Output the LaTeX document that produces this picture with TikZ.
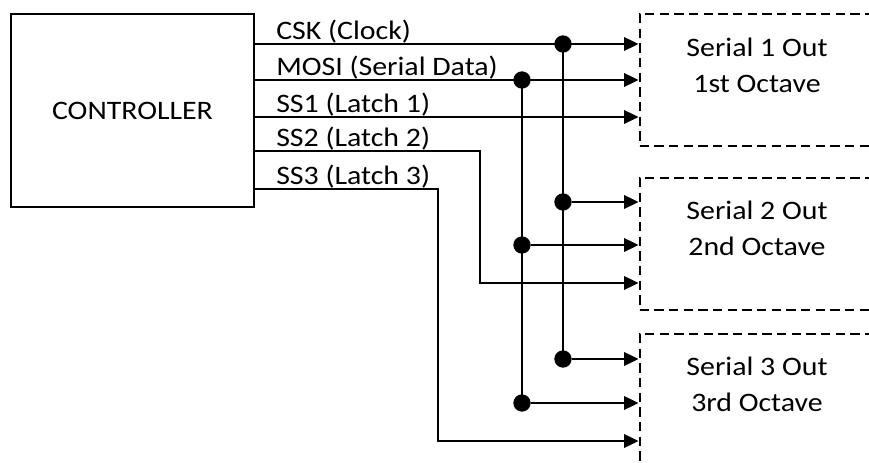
\documentclass[tikz,border=0pt]{standalone}
\usepackage{fontspec}
\setmainfont{Carlito}[FakeStretch=1.12]
\usetikzlibrary{arrows.meta,positioning}

\tikzset{
    ctrlbox/.style={draw, line width=1.5pt, minimum width=182pt, minimum height=145pt},
    outbox/.style={draw, dash pattern=on 7pt off 4pt, line width=1.5pt, minimum width=176pt, minimum height=99pt},
    sig/.style={line width=2pt},
    sigarrow/.style={sig, -{Triangle[length=11pt,width=10pt]}},
    junction/.style={circle, fill, inner sep=0pt, minimum size=13pt},
    siglabel/.style={anchor=base west, inner sep=0pt},
    outlabel/.style={align=center, inner sep=0pt}
}

\begin{document}
\begin{tikzpicture}[x=0.75pt,y=-0.75pt,font=\fontsize{20}{27}\selectfont]
    \clip (0,0) rectangle (869,463);

    % controller
    \node[ctrlbox] (ctrl) at (132.5,110.5) {CONTROLLER};

    % serial outputs
    \node[outbox] (box1) at (757,80) {};
    \node[outbox] (box2) at (757,244) {};
    \node[outbox] (box3) at (757,400) {};
    \node[outlabel] (txt1) at (757,65) {Serial 1 Out\\1st Octave};
    \node[outlabel] (txt2) at (757,228) {Serial 2 Out\\2nd Octave};
    \node[outlabel] (txt3) at (757,384) {Serial 3 Out\\3rd Octave};

    % controller pins
    \coordinate (csk) at (254,44);
    \coordinate (mosi) at (254,80);
    \coordinate (ss1) at (254,117);
    \coordinate (ss2) at (254,151);
    \coordinate (ss3) at (254,189);
    \coordinate (ss2turn) at (480,283);
    \coordinate (ss3turn) at (438,441);

    \node[siglabel] at (276,40) {CSK (Clock)};
    \node[siglabel] at (276,76) {MOSI (Serial Data)};
    \node[siglabel] at (276,113) {SS1 (Latch 1)};
    \node[siglabel] at (276,147) {SS2 (Latch 2)};
    \node[siglabel] at (276,185) {SS3 (Latch 3)};

    % bus junctions
    \node[junction] (cskj1) at (563,44) {};
    \node[junction] (cskj2) at (563,202) {};
    \node[junction] (cskj3) at (563,359) {};
    \node[junction] (mosij1) at (522,80) {};
    \node[junction] (mosij2) at (522,245) {};
    \node[junction] (mosij3) at (522,403) {};

    % wires
    \draw[sig] (cskj1.center) -- (cskj3.center);
    \draw[sig] (mosij1.center) -- (mosij3.center);
    \draw[sigarrow] (csk) -- (csk -| box1.west);
    \draw[sigarrow] (mosi) -- (mosi -| box1.west);
    \draw[sigarrow] (ss1) -- (ss1 -| box1.west);
    \draw[sigarrow] (cskj2) -- (cskj2 -| box2.west);
    \draw[sigarrow] (mosij2) -- (mosij2 -| box2.west);
    \draw[sigarrow] (ss2) -| (ss2turn) -- (ss2turn -| box2.west);
    \draw[sigarrow] (cskj3) -- (cskj3 -| box3.west);
    \draw[sigarrow] (mosij3) -- (mosij3 -| box3.west);
    \draw[sigarrow] (ss3) -| (ss3turn) -- (ss3turn -| box3.west);
\end{tikzpicture}
\end{document}
